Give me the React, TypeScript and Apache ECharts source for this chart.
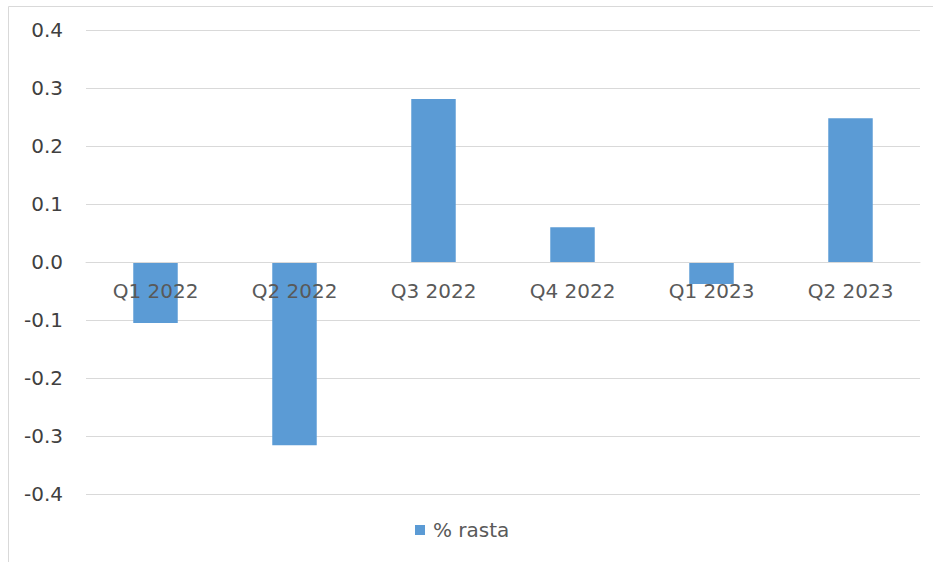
import React, { useEffect, useRef } from "react";
import * as echarts from "echarts";

const categories = ["Q1 2022", "Q2 2022", "Q3 2022", "Q4 2022", "Q1 2023", "Q2 2023"];
const values = [-0.105, -0.316, 0.281, 0.06, -0.038, 0.248];
const seriesName = "% rasta";
const yMin = -0.4;
const yMax = 0.4;
const yStep = 0.1;

export default function App() {
  const ref = useRef<HTMLDivElement>(null);
  useEffect(() => {
    if (!ref.current) return;
    const chart = echarts.init(ref.current, undefined, { renderer: "svg" });
    const font = "DejaVu Sans, Verdana, sans-serif";
    chart.setOption({
      animation: false,
      backgroundColor: "#ffffff",
      graphic: [
        {
          type: "rect",
          shape: { x: 8.5, y: 6.5, width: 1000, height: 700 },
          style: { fill: "none", stroke: "#d9d9d9", lineWidth: 1 },
          silent: true,
          z: -10,
        },
      ],
      grid: { left: 86, right: 13, top: 30, bottom: 68, containLabel: false },
      legend: {
        data: [seriesName],
        left: 410,
        top: 515,
        itemWidth: 10,
        itemHeight: 10,
        icon: "rect",
        textStyle: { fontFamily: font, fontSize: 20, color: "#595959", padding: [0, 0, 0, 3] },
      },
      xAxis: {
        type: "category",
        data: categories,
        position: "bottom",
        offset: -232,
        axisLine: { show: true, onZero: false, lineStyle: { color: "#d9d9d9", width: 1 } },
        axisTick: { show: false },
        axisLabel: { margin: 19, fontFamily: font, fontSize: 20, color: "#595959" },
        z: 5,
      },
      yAxis: {
        type: "value",
        min: yMin,
        max: yMax,
        interval: yStep,
        axisLine: { show: false },
        axisTick: { show: false },
        splitLine: { lineStyle: { color: "#d9d9d9", width: 1 } },
        axisLabel: {
          margin: 23,
          fontFamily: font,
          fontSize: 20,
          color: "#404040",
          formatter: (v: number) => v.toFixed(1),
        },
      },
      series: [
        {
          name: seriesName,
          type: "bar",
          data: values,
          barWidth: "32%",
          itemStyle: { color: "#5b9bd5" },
          z: 2,
        },
      ],
    });
    return () => chart.dispose();
  }, []);
  return (
    <div
      ref={ref}
      style={{ position: "fixed", left: 0, top: 0, width: 933, height: 562 }}
    />
  );
}
